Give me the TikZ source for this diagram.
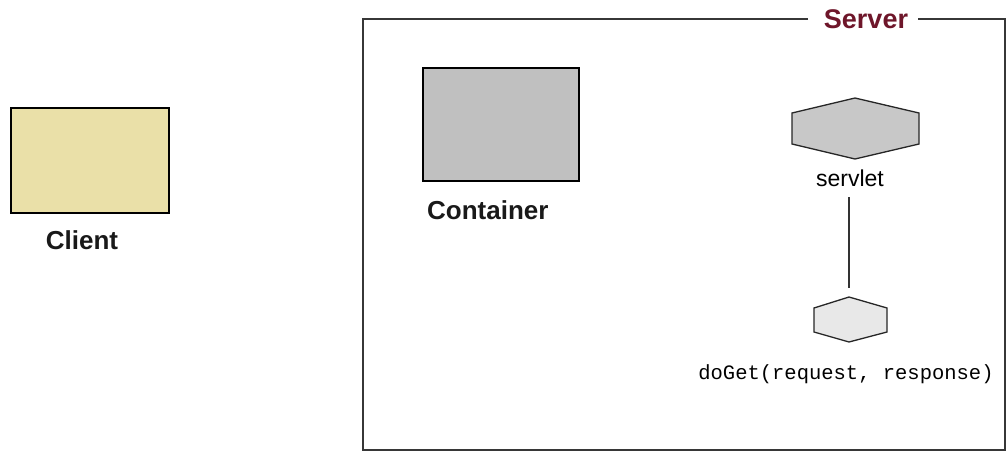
\documentclass[tikz,border=0pt]{standalone}
\usepackage{fontspec}
\setmainfont{Liberation Sans}
\setmonofont{Liberation Mono}
\definecolor{clientfill}{RGB}{234,224,168}
\definecolor{contfill}{RGB}{192,192,192}
\definecolor{hexdark}{RGB}{200,200,200}
\definecolor{hexlight}{RGB}{232,232,232}
\definecolor{servercol}{RGB}{110,22,42}
\definecolor{framecol}{RGB}{55,55,55}
\tikzset{
  box/.style={draw=black, line width=1.5pt, inner sep=0pt},
  biglabel/.style={font=\fontsize{26}{29}\selectfont\bfseries, inner sep=0pt, text=black!90},
  frame/.style={draw=framecol, line width=2pt},
  hexshape/.style={draw=black!85, line width=1.3pt},
  conn/.style={draw=black!80, line width=1.3pt},
}
\begin{document}
\begin{tikzpicture}[x=1pt,y=-1pt]
\useasboundingbox (0,0) rectangle (1007,452);
% server frame
\node[font=\fontsize{27}{30}\selectfont\bfseries, text=servercol, inner sep=0pt, anchor=center] (server) at (866,19) {Server};
\draw[frame] (808,19) -- (363,19) -- (363,450) -- (1005,450) -- (1005,19) -- (918,19);
% client
\node[box, fill=clientfill, minimum width=158pt, minimum height=105pt] (client) at (90,160.5) {};
\node[biglabel, anchor=base] (clientlbl) at (82,249) {Client};
% container
\node[box, fill=contfill, minimum width=156pt, minimum height=113pt] (container) at (501,124.5) {};
\node[biglabel, anchor=base west] (contlbl) at (427,219) {Container};
% servlet hexagon
\coordinate (servlet) at (855.5,128.5);
\draw[hexshape, fill=hexdark] (792,113) -- (855,98) -- (919,113) -- (919,144) -- (855,159) -- (792,144) -- cycle;
\node[font=\fontsize{23}{26}\selectfont, anchor=base, inner sep=0pt] (servletlbl) at (850,186) {servlet};
% doGet hexagon
\coordinate (doget) at (850.5,319.5);
\draw[hexshape, fill=hexlight] (814,308) -- (849,297) -- (887,308) -- (887,332) -- (849,342) -- (814,332) -- cycle;
\node[font=\fontsize{20.5}{24}\selectfont\ttfamily, anchor=base, inner sep=0pt] (dogetlbl) at (846,379) {doGet(request, response)};
% connector
\coordinate (ctop) at (849,197);
\coordinate (cbot) at (849,288);
\draw[conn] (ctop) -- (cbot);
\end{tikzpicture}
\end{document}
